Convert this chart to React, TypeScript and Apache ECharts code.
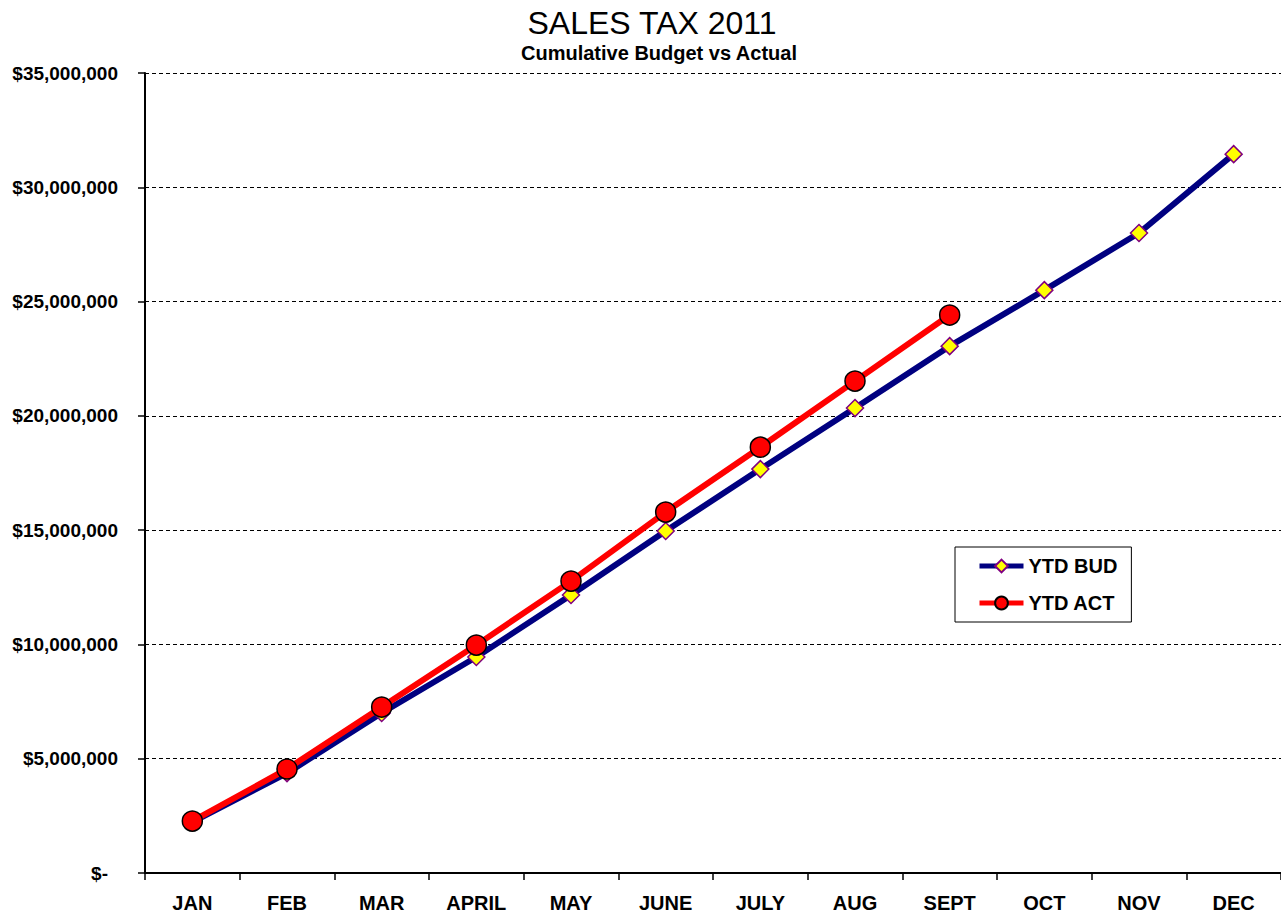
import React, { useEffect, useRef } from "react";
import * as echarts from "echarts";

const months = ["JAN", "FEB", "MAR", "APRIL", "MAY", "JUNE", "JULY", "AUG", "SEPT", "OCT", "NOV", "DEC"];
const ytdBudget = [2230000, 4370000, 7000000, 9450000, 12160000, 14960000, 17670000, 20340000, 23050000, 25500000, 28000000, 31450000];
const ytdActual = [2270000, 4550000, 7260000, 9970000, 12770000, 15790000, 18630000, 21520000, 24410000];

const FONT = "'Liberation Sans Narrow', 'Arial Narrow', 'Liberation Sans', Arial, sans-serif";

function fmtMoney(v: number): string {
  if (v === 0) return "{z|$-}";
  return "$" + v.toString().replace(/\B(?=(\d{3})+(?!\d))/g, ",");
}

export default function App() {
  const ref = useRef<HTMLDivElement>(null);
  useEffect(() => {
    if (!ref.current) return;
    const chart = echarts.init(ref.current, undefined, { renderer: "svg" });
    chart.setOption({
      animation: false,
      backgroundColor: "#ffffff",
      title: [
        {
          text: "SALES TAX 2011",
          left: 652,
          textAlign: "center",
          top: 6,
          padding: 0,
          textStyle: { fontFamily: FONT, fontSize: 32, fontWeight: "normal", color: "#000", lineHeight: 34 },
        },
        {
          text: "Cumulative Budget vs Actual",
          left: 659,
          textAlign: "center",
          top: 42,
          padding: 0,
          textStyle: { fontFamily: FONT, fontSize: 20, fontWeight: "bold", color: "#000", lineHeight: 21 },
        },
      ],
      legend: {
        orient: "vertical",
        left: 955,
        top: 547,
        padding: [9, 14, 9, 22],
        itemGap: 17,
        itemWidth: 44,
        itemHeight: 16,
        borderColor: "#000",
        borderWidth: 1,
        lineStyle: { width: 5 },
        textStyle: { fontFamily: FONT, fontSize: 20, fontWeight: "bold", color: "#000" },
        data: ["YTD BUD", "YTD ACT"],
      },
      grid: { left: 145, right: 0, top: 73, bottom: 43 },
      xAxis: {
        type: "category",
        data: months,
        boundaryGap: true,
        axisLine: { lineStyle: { color: "#000", width: 2 } },
        axisTick: { show: true, length: 7, lineStyle: { color: "#000", width: 1.5 } },
        axisLabel: { fontFamily: FONT, fontSize: 20, fontWeight: "bold", color: "#000", margin: 20 },
        splitLine: { show: false },
      },
      yAxis: {
        type: "value",
        min: 0,
        max: 35000000,
        interval: 5000000,
        axisLine: { show: true, lineStyle: { color: "#000", width: 2 } },
        axisTick: { show: true, length: 7, lineStyle: { color: "#000", width: 1.5 } },
        axisLabel: {
          fontFamily: FONT,
          fontSize: 19,
          fontWeight: "bold",
          color: "#000",
          margin: 27,
          formatter: (v: number) => fmtMoney(v),
          rich: { z: { fontFamily: FONT, fontSize: 19, fontWeight: "bold", color: "#000", padding: [0, 10, 0, 0] } },
        },
        splitLine: { show: true, lineStyle: { color: "#000", type: [4, 3], width: 1 } },
      },
      series: [
        {
          name: "YTD BUD",
          type: "line",
          data: ytdBudget,
          lineStyle: { color: "#000080", width: 6 },
          itemStyle: { color: "#FFFF00", borderColor: "#800080", borderWidth: 1.5 },
          symbol: "diamond",
          symbolSize: 17,
          z: 2,
        },
        {
          name: "YTD ACT",
          type: "line",
          data: ytdActual,
          lineStyle: { color: "#FF0000", width: 6 },
          itemStyle: { color: "#FF0000", borderColor: "#000", borderWidth: 1.5 },
          symbol: "circle",
          symbolSize: 20,
          z: 3,
        },
      ],
    });
    return () => chart.dispose();
  }, []);
  return <div ref={ref} style={{ position: "absolute", left: 0, top: 0, width: 1281, height: 916 }} />;
}
